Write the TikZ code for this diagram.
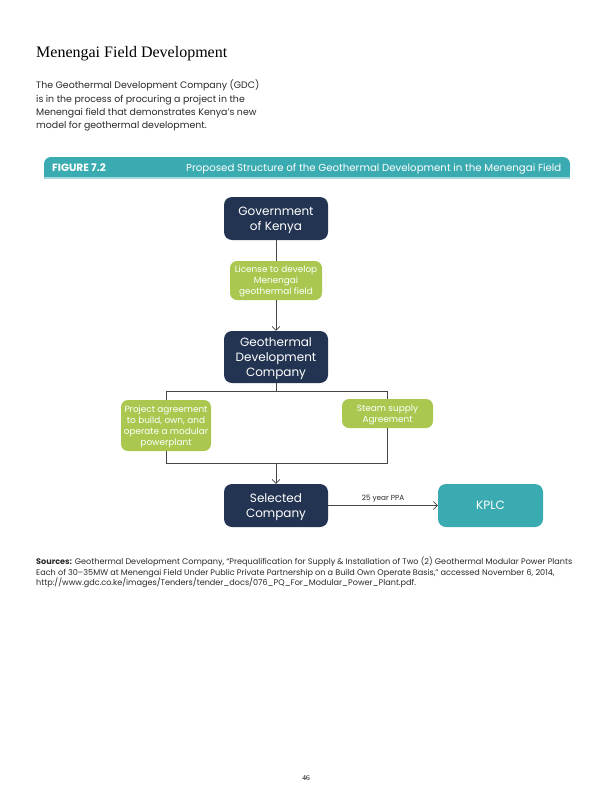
\documentclass[tikz,border=0pt]{standalone}
\usepackage{fontspec}
\setmainfont{Poppins}
\newfontfamily\titleserif{Liberation Serif}
\definecolor{gdcnavy}{RGB}{35, 52, 82}
\definecolor{gdcgreen}{RGB}{170, 200, 80}
\definecolor{gdcteal}{RGB}{58, 171, 176}
\definecolor{bodygray}{RGB}{40, 40, 40}
\definecolor{linegray}{RGB}{70, 70, 70}
\usetikzlibrary{arrows.meta, positioning}

\tikzset{
  navybox/.style={fill=gdcnavy, text=white, rounded corners=8pt, align=center,
    minimum width=104pt, inner sep=0pt, text depth=0pt, font=\fontsize{12}{15}\selectfont},
  greenbox/.style={fill=gdcgreen, text=white, rounded corners=7pt, align=center,
    inner sep=0pt, text depth=0pt, font=\fontsize{8.9}{11}\selectfont},
  link/.style={draw=linegray, line width=0.6pt},
  linkarrow/.style={link, -{Straight Barb[length=4pt, width=8pt, line width=0.6pt]}}
}

\begin{document}
\begin{tikzpicture}[x=1pt, y=-1pt]
  \useasboundingbox (0, 0) rectangle (612, 792);

  % Heading and intro text
  \node[anchor=base west, inner sep=0pt, font=\titleserif\fontsize{16}{18}\selectfont] (title) at (36, 57) {Menengai Field Development};
  \node[anchor=north west, inner sep=0pt, align=left, text=bodygray, font=\fontsize{9.4}{13.2}\selectfont] (intro) at (36, 80) {The Geothermal Development Company (GDC)\\
    is in the process of procuring a project in the\\
    Menengai field that demonstrates Kenya's new\\
    model for geothermal development.};

  % Figure band
  \fill[gdcteal, rounded corners=7pt] (44, 157) rectangle (570, 177);
  \fill[gdcteal] (44, 168) rectangle (570, 177);
  \fill[gdcteal!45] (44, 177) rectangle (570, 179);
  \node[anchor=base west, inner sep=0pt, text=white, font=\bfseries\fontsize{10.5}{12}\selectfont] (fignum) at (52, 171) {FIGURE 7.2};
  \node[anchor=base west, inner sep=0pt, text=white, font=\fontsize{10.2}{12}\selectfont] (figtitle) at (186, 171) {Proposed Structure of the Geothermal Development in the Menengai Field};

  % Boxes
  \node[navybox, minimum height=43pt] (gov) at (276, 218.5) {Government\\of Kenya};
  \node[greenbox, minimum width=92pt, minimum height=39pt] (license) at (276, 280.5) {License to develop\\Menengai\\geothermal field};
  \node[navybox, minimum height=52pt] (gdc) at (276, 357) {Geothermal\\Development\\Company};
  \node[greenbox, minimum width=90pt, minimum height=51pt] (project) at (166, 425.5) {Project agreement\\to build, own, and\\operate a modular\\powerplant};
  \node[greenbox, minimum width=91pt, minimum height=29pt] (steam) at (387.5, 413.5) {Steam supply\\Agreement};
  \node[navybox, minimum height=43pt] (selected) at (276, 505.5) {Selected\\Company};
  \node[navybox, fill=gdcteal, minimum width=105pt, minimum height=43pt] (kplc) at (490.5, 505.5) {KPLC};

  % Junctions
  \coordinate (topmid) at (276, 391);
  \coordinate (topleft) at (166, 391);
  \coordinate (topright) at (387.5, 391);
  \coordinate (botleft) at (166, 463);
  \coordinate (botright) at (387.5, 463);
  \coordinate (botmid) at (276, 463);

  % Connectors
  \draw[link] (gov) -- (license);
  \draw[linkarrow] (license) -- (gdc);
  \draw[link] (gdc) -- (topmid);
  \draw[link] (topleft) -- (topright);
  \draw[link] (topleft) -- (project);
  \draw[link] (topright) -- (steam);
  \draw[link] (project) -- (botleft);
  \draw[link] (steam) -- (botright);
  \draw[link] (botleft) -- (botright);
  \draw[linkarrow] (botmid) -- (selected);
  \draw[linkarrow] (selected) -- node[above, inner sep=3pt, text=bodygray, font=\fontsize{7.3}{9}\selectfont] {25 year PPA} (kplc);

  % Sources
  \node[anchor=north west, inner sep=0pt, align=left, text=bodygray, font=\fontsize{8.1}{10.5}\selectfont] (sources) at (36, 557) {\textbf{Sources:} Geothermal Development Company, ``Prequalification for Supply \& Installation of Two (2) Geothermal Modular Power Plants\\
    Each of 30--35MW at Menengai Field Under Public Private Partnership on a Build Own Operate Basis,'' accessed November 6, 2014,\\
    http://www.gdc.co.ke/images/Tenders/tender\_docs/076\_PQ\_For\_Modular\_Power\_Plant.pdf.};

  % Page number
  \node[inner sep=0pt, font=\titleserif\fontsize{7.5}{9}\selectfont] (pagenum) at (306, 778) {46};
\end{tikzpicture}
\end{document}
